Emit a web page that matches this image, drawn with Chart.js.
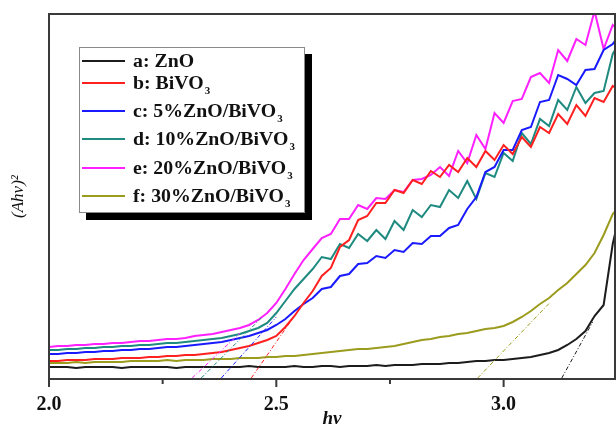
<!DOCTYPE html>
<html>
<head>
<meta charset="utf-8">
<script src="https://cdn.jsdelivr.net/npm/chart.js@4.4.1/dist/chart.umd.min.js"></script>
<style>
  html, body { margin: 0; padding: 0; background: #fff; }
  #wrap { width: 616px; height: 430px; }
</style>
</head>
<body>
<div id="wrap"><canvas id="taucChart"></canvas></div>
<script>
// photon energy hv (eV)
const energy = [
  2.00, 2.02, 2.04, 2.06, 2.08, 2.10, 2.12, 2.14, 2.16, 2.18,
  2.20, 2.22, 2.24, 2.26, 2.28, 2.30, 2.32, 2.34, 2.36, 2.38,
  2.40, 2.42, 2.44, 2.46, 2.48, 2.50, 2.52, 2.54, 2.56, 2.58,
  2.60, 2.62, 2.64, 2.66, 2.68, 2.70, 2.72, 2.74, 2.76, 2.78,
  2.80, 2.82, 2.84, 2.86, 2.88, 2.90, 2.92, 2.94, 2.96, 2.98,
  3.00, 3.02, 3.04, 3.06, 3.08, 3.10, 3.12, 3.14, 3.16, 3.18,
  3.20, 3.22, 3.24, 3.26
];

// (Ahv)^2, arbitrary units
const znO = [
  1.2, 1.2, 1.2, 1.1, 1.2, 1.2, 1.2, 1.2, 1.1, 1.2,
  1.2, 1.2, 1.2, 1.2, 1.1, 1.2, 1.2, 1.2, 1.2, 1.2,
  1.2, 1.2, 1.3, 1.2, 1.2, 1.2, 1.2, 1.3, 1.2, 1.2,
  1.3, 1.3, 1.2, 1.3, 1.3, 1.3, 1.4, 1.3, 1.4, 1.4,
  1.4, 1.5, 1.5, 1.5, 1.6, 1.6, 1.7, 1.8, 1.8, 1.9,
  1.9, 2.0, 2.1, 2.2, 2.4, 2.6, 2.9, 3.4, 4.0, 4.8,
  6.3, 7.4, 13.5, 17.5
];
const biVO4 = [
  1.8, 1.8, 1.9, 1.9, 1.9, 2.0, 2.0, 2.0, 2.1, 2.1,
  2.1, 2.2, 2.2, 2.3, 2.3, 2.4, 2.4, 2.5, 2.6, 2.7,
  2.9, 3.1, 3.3, 3.6, 3.9, 4.3, 5.2, 6.3, 7.6, 8.8,
  10.3, 11.1, 13.2, 13.9, 15.9, 16.3, 17.6, 17.6, 18.9, 18.6,
  19.9, 19.5, 20.8, 20.2, 21.4, 20.7, 22.1, 21.2, 22.8, 21.9,
  23.4, 22.5, 24.2, 23.2, 25.2, 24.6, 26.5, 25.5, 27.4, 26.3,
  28.1, 27.7, 29.3, 28.7
];
const zno5 = [
  2.5, 2.5, 2.6, 2.6, 2.7, 2.7, 2.8, 2.8, 2.9, 2.9,
  3.0, 3.0, 3.1, 3.2, 3.2, 3.3, 3.4, 3.5, 3.6, 3.7,
  3.9, 4.1, 4.3, 4.6, 4.9, 5.4, 6.0, 6.8, 7.5, 8.1,
  9.0, 9.2, 10.3, 10.5, 11.5, 11.6, 12.3, 12.1, 12.9, 12.7,
  13.6, 13.5, 14.3, 14.3, 15.1, 15.4, 17.0, 18.2, 20.7, 21.2,
  22.9, 22.9, 24.9, 25.2, 27.7, 27.9, 30.4, 30.0, 29.4, 30.9,
  31.0, 32.9, 33.5, 34.8
];
const zno10 = [
  2.9, 2.9, 3.0, 3.0, 3.1, 3.1, 3.2, 3.2, 3.3, 3.3,
  3.4, 3.4, 3.5, 3.6, 3.6, 3.7, 3.8, 3.9, 4.0, 4.1,
  4.3, 4.5, 4.8, 5.1, 5.6, 6.6, 7.8, 9.0, 10.0, 11.0,
  12.2, 12.0, 13.5, 13.1, 14.5, 13.8, 14.9, 14.0, 15.8, 14.9,
  16.9, 16.2, 17.4, 17.2, 18.9, 18.1, 19.8, 18.0, 20.6, 20.2,
  22.6, 21.8, 24.6, 23.5, 26.0, 25.3, 27.9, 26.9, 29.2, 27.6,
  28.6, 28.8, 32.5, 34.0
];
const zno20 = [
  3.2, 3.3, 3.3, 3.4, 3.4, 3.5, 3.5, 3.6, 3.6, 3.7,
  3.8, 3.8, 3.9, 4.0, 4.0, 4.1, 4.3, 4.4, 4.5, 4.7,
  4.9, 5.1, 5.4, 5.9, 6.6, 7.6, 9.0, 10.5, 11.9, 13.0,
  14.1, 14.5, 16.0, 16.0, 17.4, 17.0, 18.1, 18.0, 18.9, 18.7,
  19.9, 20.0, 20.4, 21.2, 20.3, 22.8, 21.6, 24.4, 23.0, 26.6,
  25.6, 27.8, 28.0, 30.2, 30.6, 29.6, 32.9, 31.8, 34.0, 33.4,
  36.8, 33.0, 35.4, 34.6
];
const zno30 = [
  1.6, 1.6, 1.6, 1.7, 1.6, 1.7, 1.7, 1.7, 1.7, 1.8,
  1.8, 1.8, 1.8, 1.9, 1.8, 1.9, 1.9, 1.9, 2.0, 2.0,
  2.0, 2.1, 2.1, 2.1, 2.2, 2.2, 2.3, 2.3, 2.4, 2.5,
  2.6, 2.7, 2.8, 2.9, 3.0, 3.0, 3.1, 3.2, 3.3, 3.5,
  3.7, 3.9, 4.0, 4.2, 4.3, 4.5, 4.6, 4.8, 5.0, 5.1,
  5.3, 5.7, 6.2, 6.8, 7.5, 8.1, 8.9, 9.6, 10.5, 11.4,
  12.6, 14.4, 16.5, 17.5
];

// linear extrapolations to the baseline [hv, value]
const fitZnO = [[3.128, 0.1], [3.196, 5.7]];
const fitBiVO4 = [[2.445, 0.1], [2.529, 5.6]];
const fit5 = [[2.379, 0.1], [2.500, 6.2]];
const fit10 = [[2.335, 0.1], [2.469, 6.2]];
const fit20 = [[2.315, 0.1], [2.420, 4.6]];
const fit30 = [[2.943, 0.1], [3.101, 7.6]];

const seriesNames = ['a: ZnO', 'b: BiVO3', 'c: 5%ZnO/BiVO3', 'd: 10%ZnO/BiVO3', 'e: 20%ZnO/BiVO3', 'f: 30%ZnO/BiVO3'];
const seriesColors = ['#1c1c1c', '#ff2020', '#1a1aff', '#1f8a80', '#ff20ff', '#9b9b1e'];
const xTickLabels = [2.0, 2.5, 3.0];
const xMinorTicks = [2.25, 2.75, 3.25];

const curves = [znO, biVO4, zno5, zno10, zno20, zno30];
const fits = [fitZnO, fitBiVO4, fit5, fit10, fit20, fit30];

const datasets = [];
fits.forEach((f, i) => {
  datasets.push({
    data: f.map(p => ({ x: p[0], y: p[1] })),
    borderColor: seriesColors[i],
    borderWidth: 1,
    borderDash: [4, 2, 1, 2],
    pointRadius: 0
  });
});
curves.forEach((c, i) => {
  datasets.push({
    label: seriesNames[i],
    data: energy.map((e, k) => ({ x: e, y: c[k] })),
    borderColor: seriesColors[i],
    borderWidth: 2,
    pointRadius: 0,
    tension: 0
  });
});

const frame = {
  id: 'frame',
  afterDatasetsDraw(chart) {
    const { ctx, chartArea: a, scales: { x } } = chart;
    ctx.save();
    ctx.strokeStyle = '#3a3a3a';
    ctx.lineWidth = 2;
    ctx.strokeRect(a.left, a.top, a.right - a.left, a.bottom - a.top);
    ctx.beginPath();
    xTickLabels.forEach(v => {
      const px = x.getPixelForValue(v);
      ctx.moveTo(px, a.bottom);
      ctx.lineTo(px, a.bottom + 8);
    });
    xMinorTicks.forEach(v => {
      const px = x.getPixelForValue(v);
      if (px > a.right + 1) return;
      ctx.moveTo(px, a.bottom);
      ctx.lineTo(px, a.bottom + 5);
    });
    ctx.stroke();
    ctx.restore();
  },
  afterDraw(chart) {
    const ctx = chart.ctx;
    const box = { x: 79, y: 47, w: 226, h: 166 };
    const rows = [61, 83, 111, 139, 168, 196];
    ctx.save();
    ctx.fillStyle = '#000';
    ctx.fillRect(box.x + 7, box.y + 7, box.w, box.h);
    ctx.fillStyle = '#fff';
    ctx.fillRect(box.x, box.y, box.w, box.h);
    ctx.strokeStyle = '#8a8a8a';
    ctx.lineWidth = 1;
    ctx.strokeRect(box.x + 0.5, box.y + 0.5, box.w - 1, box.h - 1);

    seriesNames.forEach((name, i) => {
      const y = rows[i];
      ctx.strokeStyle = seriesColors[i];
      ctx.lineWidth = 2;
      ctx.beginPath();
      ctx.moveTo(82, y);
      ctx.lineTo(125, y);
      ctx.stroke();

      let main = name, sub = '';
      if (name.endsWith('3')) { main = name.slice(0, -1); sub = '3'; }
      ctx.save();
      ctx.translate(133, y + 6);
      ctx.scale(1.1, 1);
      ctx.fillStyle = '#111';
      ctx.font = 'bold 18px "Liberation Serif"';
      ctx.textBaseline = 'alphabetic';
      ctx.fillText(main, 0, 0);
      const w = ctx.measureText(main).width;
      if (sub) {
        ctx.font = 'bold 10px "Liberation Serif"';
        ctx.fillText(sub, w + 1, 5);
      }
      ctx.restore();
    });
    ctx.restore();
  }
};

new Chart(document.getElementById('taucChart'), {
  type: 'line',
  data: { datasets: datasets },
  options: {
    responsive: true,
    maintainAspectRatio: false,
    animation: false,
    layout: { padding: { top: 14, right: 1, left: 0, bottom: 0 } },
    plugins: { legend: { display: false }, tooltip: { enabled: false } },
    scales: {
      x: {
        type: 'linear',
        min: 2.0,
        max: 3.245,
        grid: { display: false, drawTicks: false },
        border: { display: false },
        afterBuildTicks: s => { s.ticks = xTickLabels.map(v => ({ value: v })); },
        afterFit: s => { s.height = 51; },
        ticks: {
          padding: 14,
          color: '#111',
          font: { family: 'Liberation Serif', size: 20, weight: 'bold' },
          callback: v => v.toFixed(1)
        },
        title: {
          display: true,
          text: 'hv',
          color: '#111',
          padding: 0,
          font: { family: 'Liberation Serif', size: 19, weight: 'bold', style: 'italic' }
        }
      },
      y: {
        min: 0,
        max: 36.5,
        grid: { display: false, drawTicks: false },
        border: { display: false },
        ticks: { display: false },
        afterFit: s => { s.width = 49; },
        title: {
          display: true,
          text: '(Ahv)²',
          color: '#111',
          padding: 8,
          font: { family: 'Liberation Serif', size: 17, style: 'italic' }
        }
      }
    }
  },
  plugins: [frame]
});
</script>
</body>
</html>
